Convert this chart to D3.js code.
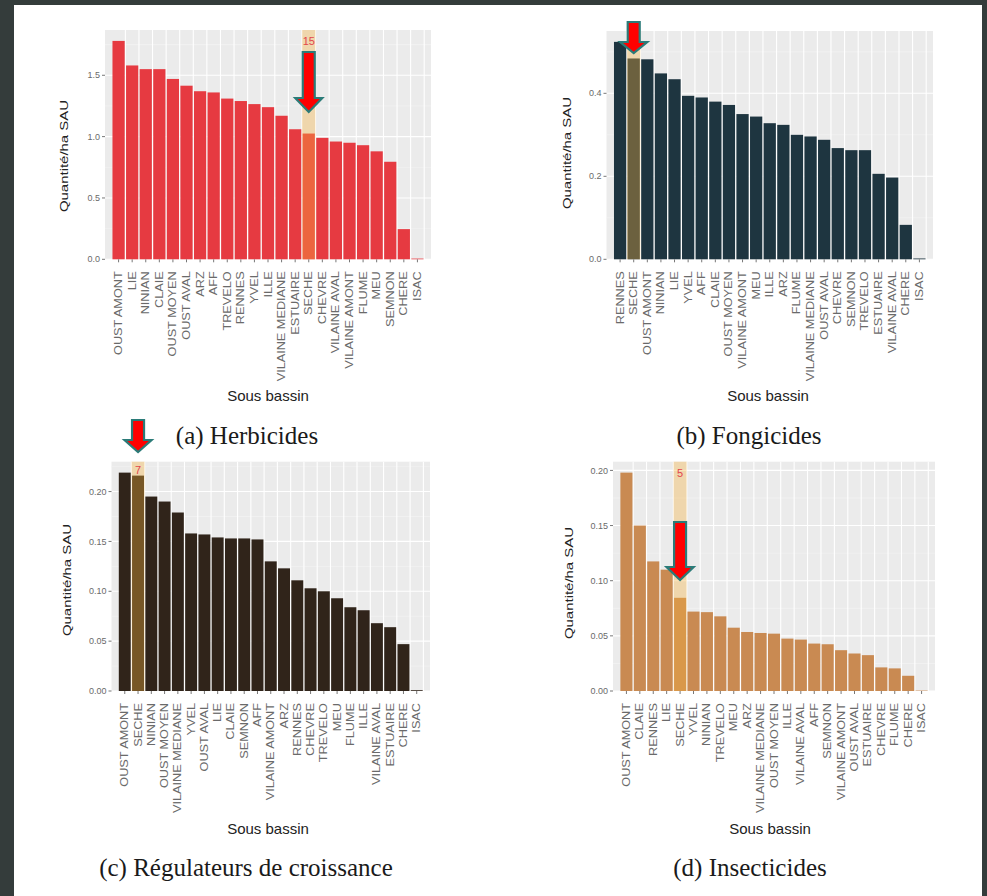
<!DOCTYPE html>
<html>
<head>
<meta charset="utf-8">
<script src="https://cdn.jsdelivr.net/npm/d3@7"></script>
<style>
  html, body { margin: 0; padding: 0; background: #343c3b; }
  svg { display: block; }
</style>
</head>
<body>
<svg id="fig" width="987" height="896"></svg>
<script>
// Quantité de produit par ha de SAU, par sous bassin, triée par valeur décroissante

const herbicideBasins = ["OUST AMONT","LIE","NINIAN","CLAIE","OUST MOYEN","OUST AVAL","ARZ","AFF","TREVELO","RENNES","YVEL","ILLE","VILAINE MEDIANE","ESTUAIRE","SECHE","CHEVRE","VILAINE AVAL","VILAINE AMONT","FLUME","MEU","SEMNON","CHERE","ISAC"];
const herbicideValues = [1.78,1.58,1.55,1.55,1.47,1.415,1.37,1.36,1.31,1.29,1.265,1.24,1.17,1.06,1.025,0.99,0.96,0.95,0.93,0.88,0.795,0.246,0.006];

const fongicideBasins = ["RENNES","SECHE","OUST AMONT","NINIAN","LIE","YVEL","AFF","CLAIE","OUST MOYEN","VILAINE AMONT","MEU","ILLE","ARZ","FLUME","VILAINE MEDIANE","OUST AVAL","CHEVRE","SEMNON","TREVELO","ESTUAIRE","VILAINE AVAL","CHERE","ISAC"];
const fongicideValues = [0.524,0.484,0.482,0.448,0.434,0.394,0.390,0.380,0.372,0.350,0.344,0.328,0.324,0.300,0.296,0.288,0.268,0.263,0.263,0.206,0.197,0.083,0.002];

const regulateurBasins = ["OUST AMONT","SECHE","NINIAN","OUST MOYEN","VILAINE MEDIANE","YVEL","OUST AVAL","LIE","CLAIE","SEMNON","AFF","VILAINE AMONT","ARZ","RENNES","CHEVRE","TREVELO","MEU","FLUME","ILLE","VILAINE AVAL","ESTUAIRE","CHERE","ISAC"];
const regulateurValues = [0.219,0.216,0.195,0.190,0.179,0.158,0.157,0.154,0.153,0.153,0.152,0.130,0.123,0.111,0.103,0.100,0.093,0.084,0.081,0.068,0.064,0.047,0.0008];

const insecticideBasins = ["OUST AMONT","CLAIE","RENNES","LIE","SECHE","YVEL","NINIAN","TREVELO","MEU","ARZ","VILAINE MEDIANE","OUST MOYEN","ILLE","VILAINE AVAL","AFF","SEMNON","VILAINE AMONT","OUST AVAL","ESTUAIRE","CHEVRE","FLUME","CHERE","ISAC"];
const insecticideValues = [0.198,0.150,0.1175,0.110,0.0845,0.072,0.0715,0.0677,0.0574,0.0535,0.0526,0.052,0.0475,0.0466,0.043,0.0424,0.037,0.034,0.0325,0.0214,0.0205,0.0138,0.0004];

// Rang du sous bassin SECHE, signalé au-dessus de sa colonne
const secheRanks = ["15", "", "7", "5"];

const herbicideTicks = [0, 0.5, 1.0, 1.5];
const fongicideTicks = [0, 0.2, 0.4];
const regulateurTicks = [0, 0.05, 0.10, 0.15, 0.20];
const insecticideTicks = [0, 0.05, 0.10, 0.15, 0.20];

const captions = ["(a) Herbicides", "(b) Fongicides", "(c) Régulateurs de croissance", "(d) Insecticides"];

const svg = d3.select("#fig");

// feuille blanche sur fond sombre
svg.append("rect").attr("x", 14).attr("y", 5).attr("width", 968).attr("height", 891).attr("fill", "#ffffff");

const panels = [
  { basins: herbicideBasins, values: herbicideValues, ticks: herbicideTicks, fmt: d3.format(".1f"),
    color: "#e63a41", box: {l: 105, r: 431, t: 30, b: 259.3}, arrow: [52, 98, 112], rankY: 41,
    yTitle: {x: 64, y: 156}, xTitle: {x: 268, y: 401}, caption: {x: 247, y: 444} },
  { basins: fongicideBasins, values: fongicideValues, ticks: fongicideTicks, fmt: d3.format(".1f"),
    color: "#1e3540", box: {l: 606.5, r: 933, t: 31, b: 259.3}, arrow: [22, 42, 53], rankY: 41,
    yTitle: {x: 567, y: 153}, xTitle: {x: 768, y: 401}, caption: {x: 749, y: 444} },
  { basins: regulateurBasins, values: regulateurValues, ticks: regulateurTicks, fmt: d3.format(".2f"),
    color: "#30241a", box: {l: 111.5, r: 430, t: 461.7, b: 691}, arrow: [420, 440, 452], rankY: 470,
    yTitle: {x: 67, y: 580}, xTitle: {x: 268, y: 834}, caption: {x: 246, y: 876} },
  { basins: insecticideBasins, values: insecticideValues, ticks: insecticideTicks, fmt: d3.format(".2f"),
    color: "#c98a52", box: {l: 613, r: 935, t: 461.7, b: 691}, arrow: [522, 567, 580], rankY: 473,
    yTitle: {x: 569, y: 583}, xTitle: {x: 770, y: 834}, caption: {x: 750, y: 876} }
];

const stretch = 1.27; // étirement vertical des libellés tournés

panels.forEach((p, i) => {
  const {l, r, t, b} = p.box;
  const x = d3.scaleBand().domain(p.basins).range([l, r]).paddingInner(0.1).paddingOuter(0.55).align(0.5);
  const y = d3.scaleLinear().domain([0, d3.max(p.values) * 1.05]).range([b, t]);
  const g = svg.append("g");

  // fond du panneau
  g.append("rect").attr("x", l).attr("y", t).attr("width", r - l).attr("height", b - t).attr("fill", "#ebebeb");

  // grille mineure et majeure
  const minor = p.ticks.slice(0, -1).map((v, k) => (v + p.ticks[k + 1]) / 2);
  const step = p.ticks[1] - p.ticks[0];
  if (p.ticks[p.ticks.length - 1] + step / 2 < y.domain()[1]) minor.push(p.ticks[p.ticks.length - 1] + step / 2);
  g.selectAll(".gmin").data(minor).join("line")
    .attr("x1", l).attr("x2", r).attr("y1", d => y(d)).attr("y2", d => y(d))
    .attr("stroke", "#f5f5f5").attr("stroke-width", 0.6);
  g.selectAll(".gmaj").data(p.ticks).join("line")
    .attr("x1", l).attr("x2", r).attr("y1", d => y(d)).attr("y2", d => y(d))
    .attr("stroke", "#ffffff").attr("stroke-width", 1.1);
  const bw = x.step();
  g.selectAll(".gv").data(p.basins).join("line")
    .attr("x1", d => x(d) + x.bandwidth() + (bw - x.bandwidth()) / 2)
    .attr("x2", d => x(d) + x.bandwidth() + (bw - x.bandwidth()) / 2)
    .attr("y1", t).attr("y2", b)
    .attr("stroke", "#ffffff").attr("stroke-width", 1.1);

  // barres
  g.selectAll(".bar").data(p.values).join("rect")
    .attr("x", (d, k) => x(p.basins[k]))
    .attr("width", x.bandwidth())
    .attr("y", d => y(d))
    .attr("height", d => b - y(d))
    .attr("fill", p.color);

  // colonne du sous bassin SECHE
  const cx = x("SECHE") + x.bandwidth() / 2;
  g.append("rect")
    .attr("x", x("SECHE") - 0.5).attr("width", x.bandwidth() + 1)
    .attr("y", t).attr("height", b - t)
    .attr("fill", "#f6b13c").attr("fill-opacity", 0.36);
  if (secheRanks[i]) {
    g.append("text").attr("x", cx).attr("y", p.rankY).attr("text-anchor", "middle")
      .attr("dominant-baseline", "central")
      .attr("font-family", "Liberation Sans, Arial, sans-serif").attr("font-size", 11)
      .attr("fill", "#e2454b").text(secheRanks[i]);
  }

  // axe des ordonnées
  const ya = g.append("g");
  ya.selectAll("line").data(p.ticks).join("line")
    .attr("x1", l - 3).attr("x2", l).attr("y1", d => y(d)).attr("y2", d => y(d))
    .attr("stroke", "#777").attr("stroke-width", 1);
  ya.selectAll("text").data(p.ticks).join("text")
    .attr("x", l - 5).attr("y", d => y(d)).attr("dy", "0.35em").attr("text-anchor", "end")
    .attr("font-family", "Liberation Sans, Arial, sans-serif").attr("font-size", 9)
    .attr("fill", "#6a6a6a").text(d => p.fmt(d));

  // axe des abscisses
  const xa = g.append("g");
  xa.selectAll("line").data(p.basins).join("line")
    .attr("x1", d => x(d) + x.bandwidth() / 2).attr("x2", d => x(d) + x.bandwidth() / 2)
    .attr("y1", b).attr("y2", b + 3).attr("stroke", "#777").attr("stroke-width", 1);
  xa.selectAll("text").data(p.basins).join("text")
    .attr("transform", d => `translate(${x(d) + x.bandwidth() / 2},${b + 12}) scale(1,${stretch}) rotate(-90)`)
    .attr("dy", "0.35em").attr("text-anchor", "end")
    .attr("font-family", "Liberation Sans, Arial, sans-serif").attr("font-size", 10)
    .attr("fill", "#6a6a6a").text(d => d);

  // titres des axes
  g.append("text")
    .attr("transform", `translate(${p.yTitle.x},${p.yTitle.y}) scale(1,1.3) rotate(-90)`)
    .attr("text-anchor", "middle").attr("dominant-baseline", "central")
    .attr("font-family", "Liberation Sans, Arial, sans-serif").attr("font-size", 11.5)
    .attr("fill", "#222").text("Quantité/ha SAU");
  g.append("text").attr("x", p.xTitle.x).attr("y", p.xTitle.y).attr("text-anchor", "middle")
    .attr("font-family", "Liberation Sans, Arial, sans-serif").attr("font-size", 15)
    .attr("fill", "#222").text("Sous bassin");

  // légende de la sous-figure
  g.append("text").attr("x", p.caption.x).attr("y", p.caption.y).attr("text-anchor", "middle")
    .attr("font-family", "Liberation Serif, Times New Roman, serif").attr("font-size", 25)
    .attr("fill", "#1a1a1a").text(captions[i]);

  // flèche pointant la colonne SECHE
  const [y1, y2, y3] = p.arrow;
  g.append("path")
    .attr("d", `M${cx - 6},${y1} L${cx + 6},${y1} L${cx + 6},${y2} L${cx + 13.5},${y2} L${cx},${y3} L${cx - 13.5},${y2} L${cx - 6},${y2} Z`)
    .attr("fill", "#ff0000").attr("stroke", "#2b7b78").attr("stroke-width", 2.2).attr("stroke-linejoin", "miter");
});
</script>
</body>
</html>
